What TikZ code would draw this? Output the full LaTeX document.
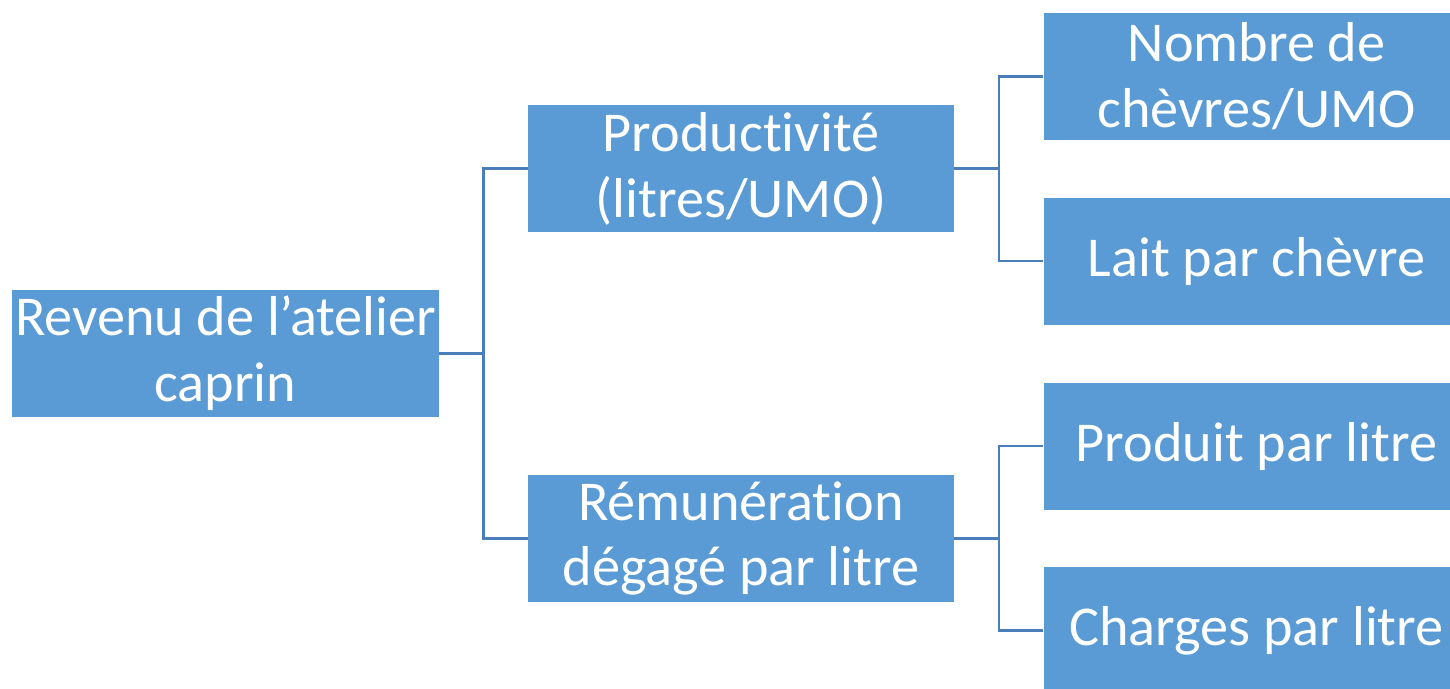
\documentclass[tikz,border=0pt]{standalone}
\usepackage{fontspec}
\setmainfont{Carlito}[Ligatures=NoCommon]
\usetikzlibrary{positioning}
\definecolor{boxblue}{HTML}{5B9BD5}
\definecolor{lineblue}{HTML}{4A7EBB}
\tikzset{
    mybox/.style = {rectangle, fill=boxblue, text=white, align=center, inner sep=0pt,
                    minimum width=8.52cm, minimum height=2.54cm,
                    font=\fontsize{32}{37.5}\selectfont},
    edgel/.style = {draw=lineblue, line width=1.5pt}, % tree connector
}
\begin{document}
\begin{tikzpicture}
  \useasboundingbox (0,0) rectangle (29,-13.76);
  \clip (0,0) rectangle (29,-13.76);

  \node[mybox] (root) at (4.51,-7.07) {Revenu de l'atelier\\caprin};

  \node[mybox] (prod) at (14.82,-3.37) {Productivit\'e\\(litres/UMO)};
  \node[mybox] (remu) at (14.82,-10.77) {R\'emun\'eration\\d\'egag\'e par litre};

  \node[mybox] (nomb) at (25.13,-1.53) {Nombre de\\ch\`evres/UMO};
  \node[mybox] (lait) at (25.13,-5.22) {Lait par ch\`evre};
  \node[mybox] (pdl)  at (25.13,-8.92) {Produit par litre};
  \node[mybox] (chg)  at (25.13,-12.61) {Charges par litre};

  \draw[edgel] (root.east) -- ++(0.89,0) |- (prod.west);
  \draw[edgel] (root.east) -- ++(0.89,0) |- (remu.west);
  \draw[edgel] (prod.east) -- ++(0.89,0) |- (nomb.west);
  \draw[edgel] (prod.east) -- ++(0.89,0) |- (lait.west);
  \draw[edgel] (remu.east) -- ++(0.89,0) |- (pdl.west);
  \draw[edgel] (remu.east) -- ++(0.89,0) |- (chg.west);
\end{tikzpicture}
\end{document}
